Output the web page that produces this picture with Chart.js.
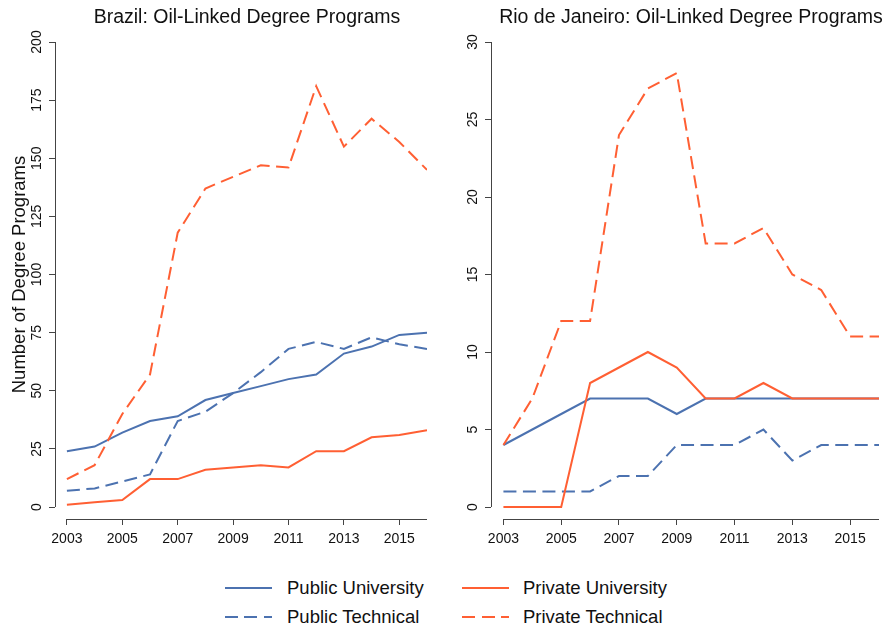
<!DOCTYPE html>
<html>
<head>
<meta charset="utf-8">
<title>Oil-Linked Degree Programs</title>
<script src="https://cdn.jsdelivr.net/npm/chart.js@4"></script>
<style>
  html, body { margin: 0; padding: 0; background: #fff; }
  #wrap { position: relative; width: 886px; height: 631px; font-family: "Liberation Sans", Arial, sans-serif; color: #111; }
  .panel { position: absolute; top: 0; width: 443px; height: 560px; }
  .swatch { position: absolute; width: 47px; height: 2px; }
  .label { position: absolute; font-size: 18.5px; line-height: 22px; white-space: nowrap; }
</style>
</head>
<body>
<div id="wrap">
  <div class="panel" style="left:0"><canvas id="brazil"></canvas></div>
  <div class="panel" style="left:443px"><canvas id="rio"></canvas></div>

  <div class="swatch" style="left:225px; top:587px; background:#4c72b0"></div>
  <div class="label" style="left:287px; top:577px">Public University</div>
  <div class="swatch" style="left:462px; top:587px; background:#ff5f33"></div>
  <div class="label" style="left:523px; top:577px">Private University</div>
  <div class="swatch" style="left:225px; top:616px; background:repeating-linear-gradient(to right,#4c72b0 0 13px,transparent 13px 19.5px)"></div>
  <div class="label" style="left:287px; top:606px">Public Technical</div>
  <div class="swatch" style="left:462px; top:616px; background:repeating-linear-gradient(to right,#ff5f33 0 13px,transparent 13px 19.5px)"></div>
  <div class="label" style="left:523px; top:606px">Private Technical</div>
</div>
<script>
const years = [2003, 2004, 2005, 2006, 2007, 2008, 2009, 2010, 2011, 2012, 2013, 2014, 2015, 2016];
const xTicks = [2003, 2005, 2007, 2009, 2011, 2013, 2015];

// Brazil
const brPublicUni   = [24, 26, 32, 37, 39, 46, 49, 52, 55, 57, 66, 69, 74, 75];
const brPublicTech  = [7, 8, 11, 14, 37, 41, 49, 58, 68, 71, 68, 73, 70, 68];
const brPrivateUni  = [1, 2, 3, 12, 12, 16, 17, 18, 17, 24, 24, 30, 31, 33];
const brPrivateTech = [12, 18, 40, 57, 118, 137, 142, 147, 146, 181, 155, 167, 157, 145];
const brYTicks = [0, 25, 50, 75, 100, 125, 150, 175, 200];

// Rio de Janeiro
const rjPublicUni   = [4, 5, 6, 7, 7, 7, 6, 7, 7, 7, 7, 7, 7, 7];
const rjPublicTech  = [1, 1, 1, 1, 2, 2, 4, 4, 4, 5, 3, 4, 4, 4];
const rjPrivateUni  = [0, 0, 0, 8, 9, 10, 9, 7, 7, 8, 7, 7, 7, 7];
const rjPrivateTech = [4, 7, 12, 12, 24, 27, 28, 17, 17, 18, 15, 14, 11, 11];
const rjYTicks = [0, 5, 10, 15, 20, 25, 30];

const BLUE = '#4c72b0';
const ORANGE = '#ff5f33';
const AXIS = '#444';
const FONT = '"Liberation Sans", Arial, sans-serif';
const DASH = [13, 6.5];

function pts(vals) {
  return years.map((yr, i) => ({ x: yr, y: vals[i] }));
}

function series(label, vals, color, dashed) {
  return {
    label, data: pts(vals), borderColor: color, backgroundColor: color,
    borderWidth: 2, borderDash: dashed ? DASH : [], pointRadius: 0, tension: 0, fill: false
  };
}

// base-R style axes: detached lines, rotated y labels, title over plot area
const rAxes = {
  id: 'rAxes',
  afterDraw(chart, args, opts) {
    const { ctx, chartArea, scales: { x, y } } = chart;
    ctx.save();
    ctx.strokeStyle = AXIS;
    ctx.lineWidth = 1;
    ctx.beginPath();
    const yl = Math.round(chartArea.left) + 0.5;
    ctx.moveTo(yl, y.getPixelForValue(opts.yMax));
    ctx.lineTo(yl, y.getPixelForValue(0));
    const xb = Math.round(chartArea.bottom) + 0.5;
    ctx.moveTo(x.getPixelForValue(years[0]), xb);
    ctx.lineTo(x.getPixelForValue(years[years.length - 1]), xb);
    ctx.stroke();

    ctx.fillStyle = '#111';
    ctx.textAlign = 'center';
    ctx.textBaseline = 'middle';
    ctx.font = '14px ' + FONT;
    y.ticks.forEach(t => {
      ctx.save();
      ctx.translate(chartArea.left - 17.5, y.getPixelForValue(t.value));
      ctx.rotate(-Math.PI / 2);
      ctx.fillText(String(t.value), 0, 0);
      ctx.restore();
    });

    if (opts.yTitle) {
      ctx.save();
      ctx.font = '18.5px ' + FONT;
      ctx.translate(20, (y.getPixelForValue(0) + y.getPixelForValue(opts.yMax)) / 2);
      ctx.rotate(-Math.PI / 2);
      ctx.fillText(opts.yTitle, 0, 0);
      ctx.restore();
    }

    ctx.font = '19.5px ' + FONT;
    ctx.fillText(opts.title, (chartArea.left + chartArea.right) / 2 + 6, 18);
    ctx.restore();
  }
};

function makeChart(id, title, sets, yTicks, yMin, yWidth, padRight, yTitle) {
  const yMax = yTicks[yTicks.length - 1];
  return new Chart(document.getElementById(id), {
    type: 'line',
    data: { datasets: sets },
    plugins: [rAxes],
    options: {
      responsive: true,
      maintainAspectRatio: false,
      animation: false,
      layout: { padding: { top: 42, right: padRight, left: 0, bottom: 0 } },
      plugins: {
        legend: { display: false },
        tooltip: { enabled: false },
        rAxes: { title, yMax, yTitle }
      },
      scales: {
        x: {
          type: 'linear', min: 2002.57, max: 2016,
          afterBuildTicks: s => { s.ticks = xTicks.map(v => ({ value: v })); },
          afterFit: s => { s.height = 560 - 519; },
          grid: { drawOnChartArea: false, drawTicks: true, tickLength: 6, color: AXIS },
          border: { display: false },
          ticks: { callback: v => String(v), color: '#111', font: { size: 14, family: FONT }, padding: 6, maxRotation: 0 }
        },
        y: {
          type: 'linear', min: yMin, max: yMax,
          afterBuildTicks: s => { s.ticks = yTicks.map(v => ({ value: v })); },
          afterFit: s => { s.width = yWidth; },
          grid: { drawOnChartArea: false, drawTicks: true, tickLength: 6, color: AXIS },
          border: { display: false },
          ticks: { display: false }
        }
      }
    }
  });
}

makeChart('brazil', 'Brazil: Oil-Linked Degree Programs', [
  series('Private University', brPrivateUni, ORANGE, false),
  series('Private Technical', brPrivateTech, ORANGE, true),
  series('Public University', brPublicUni, BLUE, false),
  series('Public Technical', brPublicTech, BLUE, true)
], brYTicks, -5.16, 55, 16, 'Number of Degree Programs');

makeChart('rio', 'Rio de Janeiro: Oil-Linked Degree Programs', [
  series('Private University', rjPrivateUni, ORANGE, false),
  series('Private Technical', rjPrivateTech, ORANGE, true),
  series('Public University', rjPublicUni, BLUE, false),
  series('Public Technical', rjPublicTech, BLUE, true)
], rjYTicks, -0.774, 48, 7, null);
</script>
</body>
</html>
